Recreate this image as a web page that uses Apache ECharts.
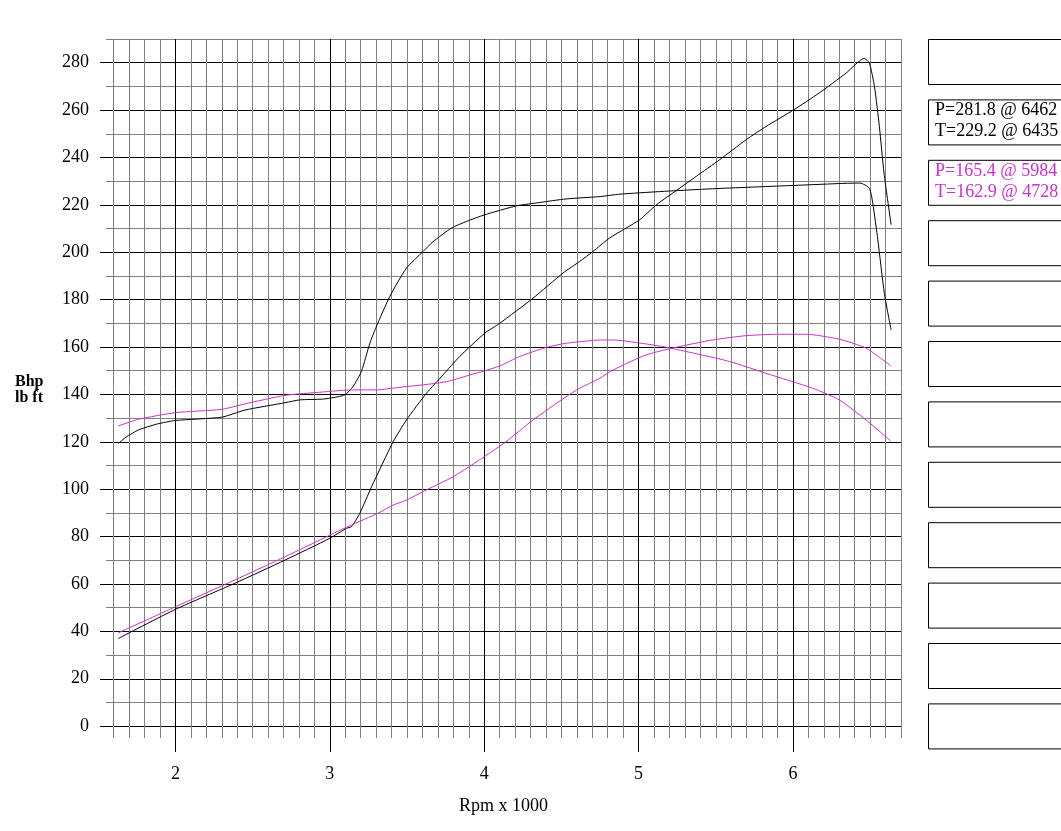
<!DOCTYPE html>
<html>
<head>
<meta charset="utf-8">
<script src="https://cdn.jsdelivr.net/npm/echarts@6/dist/echarts.min.js"></script>
<style>
  html, body { margin: 0; background: #fff; }
  #chart { width: 1061px; height: 831px; }
</style>
</head>
<body>
<div id="chart"></div>
<script>
// run A (black)
const rpmPowerA = [1.63, 2.0, 2.385, 2.71, 3.0, 3.108, 3.14, 3.194, 3.27, 3.41, 3.496, 3.626, 3.733, 3.841, 4.003, 4.10, 4.316, 4.51, 4.618, 4.704, 4.812, 5.007, 5.115, 5.265, 5.373, 5.524, 5.697, 5.826, 6.005, 6.17, 6.344, 6.462, 6.495, 6.528, 6.56, 6.59, 6.636]
const powerA = [37.0, 49.3, 60.3, 70.1, 79.3, 83.5, 84.2, 89.8, 101, 120, 129.2, 140.5, 148.2, 156, 165.8, 170, 180.6, 191.2, 196.1, 200.3, 206, 213.7, 220, 227, 232, 239, 247.5, 253.1, 260.1, 267.2, 275.6, 281.8, 279.8, 270, 253, 233.4, 211.6]
const rpmTorqueA = [1.63, 1.68, 1.76, 1.88, 2.0, 2.30, 2.45, 2.71, 2.806, 2.95, 3.0, 3.097, 3.15, 3.205, 3.259, 3.30, 3.388, 3.496, 3.604, 3.669, 3.788, 3.885, 4.003, 4.21, 4.36, 4.53, 4.75, 4.877, 5.136, 5.48, 6.005, 6.344, 6.435, 6.495, 6.517, 6.55, 6.592, 6.636]
const torqueA = [119.4, 122, 125, 127.5, 129, 130.4, 133.4, 136.5, 137.7, 138, 138.4, 139.8, 143.3, 149.8, 161.6, 168.4, 181.3, 193.3, 200.3, 204.5, 210.2, 213, 215.8, 219.6, 221, 222.5, 223.5, 224.5, 225.6, 226.8, 228.2, 229.1, 229.2, 227, 220.7, 205.2, 182.7, 167.2]

// run B (magenta)
const rpmPowerB = [1.63, 2.0, 2.385, 2.71, 3.0, 3.14, 3.31, 3.41, 3.485, 3.626, 3.80, 4.0, 4.14, 4.316, 4.53, 4.618, 4.748, 4.834, 5.05, 5.265, 5.48, 5.697, 5.913, 5.984, 6.085, 6.30, 6.474, 6.636]
const powerB = [39.4, 50.4, 61.7, 71.5, 80.6, 84.9, 89.8, 93.3, 95.1, 99.7, 105.3, 113.7, 120, 129.2, 139, 142.6, 146.8, 150.3, 156.7, 160.2, 163, 164.8, 165.4, 165.4, 165.4, 163.3, 159.5, 152]
const rpmTorqueB = [1.63, 1.76, 2.0, 2.30, 2.45, 2.71, 2.95, 3.14, 3.30, 3.453, 3.69, 3.777, 3.906, 4.0, 4.10, 4.23, 4.40, 4.53, 4.728, 4.834, 4.985, 5.157, 5.33, 5.59, 5.826, 6.128, 6.30, 6.474, 6.633]
const torqueB = [126.7, 129.5, 132.3, 133.7, 136, 139.6, 141, 141.9, 141.9, 143, 144.7, 145.7, 148.2, 149.9, 152, 156, 159.8, 161.6, 162.9, 163, 161.9, 160.2, 157.8, 153.9, 148.9, 142.6, 137.7, 129.2, 120.4]

const xTicks = [2, 3, 4, 5, 6]
const yTicks = [0, 20, 40, 60, 80, 100, 120, 140, 160, 180, 200, 220, 240, 260, 280]
const peaksA = ['P=281.8 @ 6462', 'T=229.2 @ 6435']
const peaksB = ['P=165.4 @ 5984', 'T=162.9 @ 4728']

const BLACK = '#000'
const MAGENTA = '#c833c8'
const GREY = '#808080'
const NONE = 'rgba(0,0,0,0)'
const FONT = '"Liberation Serif", "DejaVu Serif", serif'

// grid colours: x steps of 0.05 from 1.55, y steps of 5 from -5
const xColors = []
const xTickColors = []
for (let i = 0; i < 20; i++) {
  xColors.push(i === 9 ? BLACK : (i % 2 === 1 ? GREY : NONE))
  xTickColors.push(i === 9 ? BLACK : NONE)
}
const yColors = [NONE, BLACK, NONE, GREY]

const zip = (xs, ys) => xs.map((x, i) => [x, ys[i]])

const chart = echarts.init(document.getElementById('chart'))

const graphic = []
for (let i = 0; i < 12; i++) {
  graphic.push({
    type: 'rect',
    left: 928,
    top: 39 + i * 60.4,
    shape: { width: 150, height: 45 },
    style: { fill: '#fff', stroke: BLACK, lineWidth: 1 },
  })
}
const boxText = (lines, top, color) => {
  lines.forEach((t, j) => {
    graphic.push({
      type: 'text',
      left: 935,
      top: top + 2 + j * 21,
      style: { text: t, fill: color, font: '18px ' + FONT },
    })
  })
}
boxText(peaksA, 39 + 60.4, BLACK)
boxText(peaksB, 39 + 2 * 60.4, MAGENTA)
graphic.push({
  type: 'text',
  left: 15,
  top: 374,
  style: { text: 'Bhp\nlb ft', fill: BLACK, font: 'bold 16px ' + FONT, lineHeight: 16 },
})

const lineSeries = (xs, ys, color) => ({
  type: 'line',
  data: zip(xs, ys),
  showSymbol: false,
  smooth: 0.2,
  xAxisIndex: 0,
  yAxisIndex: 0,
  lineStyle: { color: color, width: 1 },
  itemStyle: { color: color },
})

chart.setOption({
  animation: false,
  backgroundColor: '#fff',
  grid: [
    { left: 106, right: 160, top: 39, bottom: 93 },
    // thin strip under the plot for the long rpm ticks
    { left: 106, right: 160, top: 738, height: 14 },
  ],
  xAxis: [
    {
      type: 'value', min: 1.55, max: 6.7, interval: 0.05,
      axisLine: { show: false }, axisTick: { show: false }, axisLabel: { show: false },
      splitLine: { show: true, lineStyle: { color: xColors, width: 1 } },
    },
    {
      type: 'value', min: 1.55, max: 6.7, position: 'bottom',
      axisLine: { show: false },
      axisTick: { show: false },
      axisLabel: { customValues: xTicks, margin: 27, color: BLACK, fontFamily: FONT, fontSize: 18 },
      splitLine: { show: false },
      name: 'Rpm x 1000', nameLocation: 'middle', nameGap: 59,
      nameTextStyle: { color: BLACK, fontFamily: FONT, fontSize: 18 },
    },
    {
      gridIndex: 1, type: 'value', min: 1.55, max: 6.7, interval: 0.05,
      axisLine: { show: false }, axisTick: { show: false }, axisLabel: { show: false },
      splitLine: { show: true, lineStyle: { color: xTickColors, width: 1 } },
    },
  ],
  yAxis: [
    {
      type: 'value', min: -5, max: 290, interval: 5,
      axisLine: { show: false }, axisTick: { show: false }, axisLabel: { show: false },
      splitLine: { show: true, lineStyle: { color: yColors, width: 1 } },
    },
    {
      type: 'value', min: -5, max: 290, position: 'left',
      axisLine: { show: false },
      axisTick: { show: true, customValues: yTicks, length: 6, lineStyle: { color: BLACK } },
      axisLabel: { customValues: yTicks, margin: 17, color: BLACK, fontFamily: FONT, fontSize: 18 },
      splitLine: { show: false },
    },
    {
      gridIndex: 1, type: 'value', min: 0, max: 1, show: false,
      splitLine: { show: false },
    },
  ],
  graphic: graphic,
  series: [
    lineSeries(rpmPowerA, powerA, BLACK),
    lineSeries(rpmTorqueA, torqueA, BLACK),
    lineSeries(rpmPowerB, powerB, MAGENTA),
    lineSeries(rpmTorqueB, torqueB, MAGENTA),
  ],
})
</script>
</body>
</html>
